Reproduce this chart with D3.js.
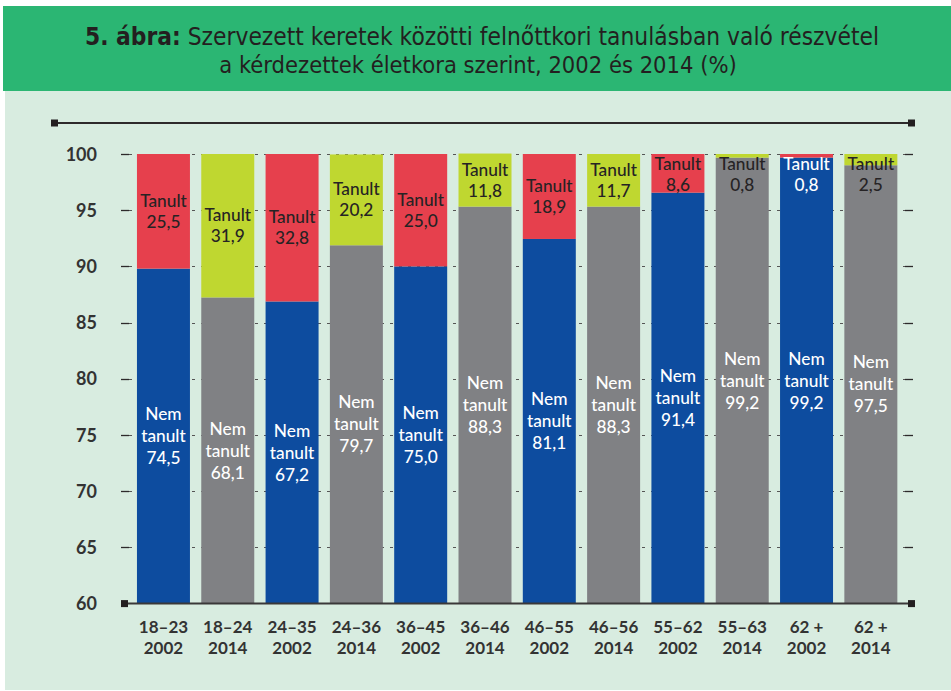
<!DOCTYPE html>
<html><head><meta charset="utf-8">
<script src="https://cdn.jsdelivr.net/npm/d3@7"></script>
<style>
html,body{margin:0;padding:0;background:#fff;}
svg{display:block;}
</style></head>
<body>
<svg id="chart" width="951" height="691"></svg>
<script>
const ageGroups = ["18–23","18–24","24–35","24–36","36–45","36–46","46–55","46–56","55–62","55–63","62 +","62 +"];
const years = ["2002","2014","2002","2014","2002","2014","2002","2014","2002","2014","2002","2014"];
const nemTanult = [74.5,68.1,67.2,79.7,75.0,88.3,81.1,88.3,91.4,99.2,99.2,97.5];
const tanult = [25.5,31.9,32.8,20.2,25.0,11.8,18.9,11.7,8.6,0.8,0.8,2.5];
const tickLabels = [60,65,70,75,80,85,90,95,100];
const titleBold = "5. ábra:";
const titleRest = " Szervezett keretek közötti felnőttkori tanulásban való részvétel";
const titleLine2 = "a kérdezettek életkora szerint, 2002 és 2014 (%)";

const colors = {
  "2002": {nem:"#0d4c9f", tan:"#e6404d"},
  "2014": {nem:"#808184", tan:"#bfd730"}
};
const dark = "#262324";
const fmt = v => d3.format(".1f")(v).replace(".", ",");

const svg = d3.select("#chart");
// backgrounds
svg.append("rect").attr("x",3).attr("y",6).attr("width",948).attr("height",85).attr("fill","#2bb673");
svg.append("rect").attr("x",5).attr("y",91).attr("width",946).attr("height",599).attr("fill","#d8ece0");

// title
const tf = "'Liberation Sans Narrow','DejaVu Sans Condensed','Roboto Condensed',sans-serif";
const t1 = svg.append("text").attr("x",482).attr("y",45).attr("text-anchor","middle")
  .attr("font-family",tf).attr("font-size",24.3).attr("fill","#231f20").attr("font-stretch","condensed");
t1.append("tspan").attr("font-weight","bold").text(titleBold);
t1.append("tspan").text(titleRest);
svg.append("text").attr("x",478).attr("y",73).attr("text-anchor","middle")
  .attr("font-family",tf).attr("font-size",23.5).attr("fill","#231f20").attr("font-stretch","condensed")
  .text(titleLine2);

const plotTop = 154, plotBottom = 603.6;
const x = d3.scaleBand().domain(d3.range(ageGroups.length)).range([131.3, 903]).paddingInner(0.176).paddingOuter(0.088);
const yVal = d3.scaleLinear().domain([0,100]).range([plotBottom, plotTop]);
const yAxisScale = d3.scaleLinear().domain([60,100]).range([plotBottom, plotTop]);

const axisColor = "#2d2a2b";
// gridlines (dashed) behind bars
const grid = svg.append("g");
tickLabels.filter(t => t > 60).forEach(t => {
  const yy = Math.round(yAxisScale(t)) + 0.5;
  grid.append("line").attr("x1",129).attr("x2",905).attr("y1",yy).attr("y2",yy)
    .attr("stroke","#555").attr("stroke-width",1).attr("stroke-dasharray","3,6");
  grid.append("line").attr("x1",121).attr("x2",129).attr("y1",yy).attr("y2",yy)
    .attr("stroke",axisColor).attr("stroke-width",1.3);
  grid.append("line").attr("x1",905).attr("x2",913).attr("y1",yy).attr("y2",yy)
    .attr("stroke",axisColor).attr("stroke-width",1.3);
});

// y tick labels
const lf = "Lato,'Open Sans',sans-serif";
svg.append("g").selectAll("text").data(tickLabels).join("text")
  .attr("x",97).attr("y",d => yAxisScale(d)+6.5).attr("text-anchor","end")
  .attr("font-family",lf).attr("font-weight","bold").attr("font-size",18).attr("fill","#333")
  .text(d => d);

// bars
const bars = svg.append("g");
ageGroups.forEach((g,i) => {
  const c = colors[years[i]];
  bars.append("rect").attr("x",x(i)).attr("width",x.bandwidth())
    .attr("y",yVal(nemTanult[i])).attr("height",yVal(0)-yVal(nemTanult[i])).attr("fill",c.nem);
  bars.append("rect").attr("x",x(i)).attr("width",x.bandwidth())
    .attr("y",yVal(nemTanult[i]+tanult[i])).attr("height",yVal(nemTanult[i])-yVal(nemTanult[i]+tanult[i])).attr("fill",c.tan);
});

// bar labels (multi-line texts as tspans)
const labels = svg.append("g").attr("font-family",lf).attr("font-size",17.3).attr("text-anchor","middle").attr("font-weight",500);
ageGroups.forEach((g,i) => {
  const cx = x(i) + x.bandwidth()/2;
  // Nem tanult
  const nMid = (yVal(0)+yVal(nemTanult[i]))/2;
  const nt = labels.append("text").attr("fill","#fff");
  ["Nem","tanult",fmt(nemTanult[i])].forEach((s,k) => {
    nt.append("tspan").attr("x",cx).attr("y",nMid + (k-1)*22 + 6).text(s);
  });
  // Tanult
  const segH = yVal(nemTanult[i]) - yVal(nemTanult[i]+tanult[i]);
  const tMid = Math.max((yVal(nemTanult[i])+yVal(nemTanult[i]+tanult[i]))/2, 174);
  const gap = 21;
  const col = (years[i]==="2002" && segH < 10) ? "#fff" : dark;
  const tt = labels.append("text").attr("fill",col);
  ["Tanult",fmt(tanult[i])].forEach((s,k) => {
    tt.append("tspan").attr("x",cx).attr("y",tMid + (k-0.5)*gap + 6).text(s);
  });
});

// top rule with square ends
svg.append("line").attr("x1",54).attr("x2",911).attr("y1",123).attr("y2",123).attr("stroke",axisColor).attr("stroke-width",2);
svg.append("rect").attr("x",51).attr("y",119.5).attr("width",7).attr("height",7).attr("fill","#231f20");
svg.append("rect").attr("x",908).attr("y",119.5).attr("width",7).attr("height",7).attr("fill","#231f20");
// x axis baseline
svg.append("line").attr("x1",124).attr("x2",911).attr("y1",plotBottom).attr("y2",plotBottom).attr("stroke","#3a3839").attr("stroke-width",2);
svg.append("rect").attr("x",121).attr("y",plotBottom-3.5).attr("width",7).attr("height",7).attr("fill","#231f20");
svg.append("rect").attr("x",908).attr("y",plotBottom-3.5).attr("width",7).attr("height",7).attr("fill","#231f20");

// x labels
const xl = svg.append("g").attr("font-family",lf).attr("font-weight","bold").attr("font-size",17).attr("fill","#333").attr("text-anchor","middle");
ageGroups.forEach((g,i) => {
  const cx = x(i) + x.bandwidth()/2;
  const t = xl.append("text");
  t.append("tspan").attr("x",cx).attr("y",633).text(g);
  t.append("tspan").attr("x",cx).attr("y",654).text(years[i]);
});
</script>
</body></html>
